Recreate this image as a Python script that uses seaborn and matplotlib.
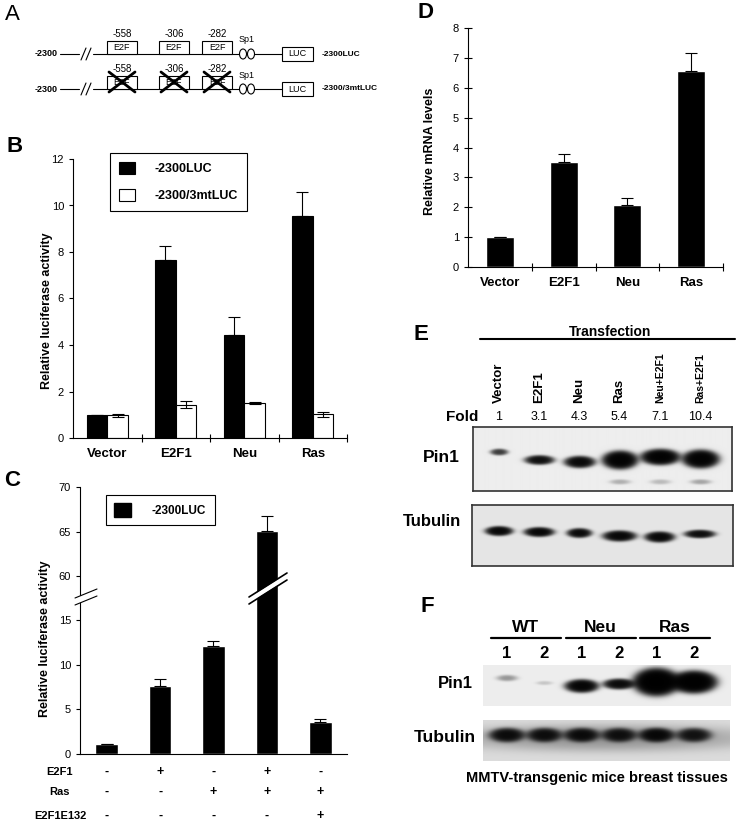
import numpy as np
import pandas as pd
import matplotlib
matplotlib.use("Agg")
import matplotlib.pyplot as plt
import seaborn as sns
from matplotlib.patches import Rectangle, Ellipse, Patch, Polygon
from matplotlib.lines import Line2D
from matplotlib.transforms import blended_transform_factory

W, H = 743, 825

# ---------------- data ----------------
# B: luciferase reporter, wild-type vs E2F-site mutant promoter
b_groups = ["Vector", "E2F1", "Neu", "Ras"]
b_constructs = ["-2300LUC", "-2300/3mtLUC"]
b_wt = [1.0, 7.67, 4.44, 9.53]
b_wt_err = [0.0, 0.57, 0.78, 1.05]
b_mut = [0.98, 1.42, 1.50, 1.02]
b_mut_err = [0.07, 0.15, 0.03, 0.10]

# C: E2F1 / Ras / E2F1E132 combinations
c_conditions = ["c1", "c2", "c3", "c4", "c5"]
c_e2f1 = ["-", "+", "-", "+", "-"]
c_ras = ["-", "-", "+", "+", "+"]
c_e132 = ["-", "-", "-", "-", "+"]
c_values = [1.1, 7.6, 12.1, 65.1, 3.6]
c_err = [0.0, 0.8, 0.5, 1.6, 0.35]

# D: relative mRNA
d_groups = ["Vector", "E2F1", "Neu", "Ras"]
d_values = [1.0, 3.5, 2.08, 6.55]
d_err = [0.0, 0.29, 0.22, 0.62]

# E: transfection western blot
e_lanes = ["Vector", "E2F1", "Neu", "Ras", "Neu+E2F1", "Ras+E2F1"]
e_fold = ["1", "3.1", "4.3", "5.4", "7.1", "10.4"]
e_pin1 = [0.45, 0.9, 1.05, 1.4, 1.4, 1.4]
e_tubulin = [1.1, 1.1, 1.0, 1.1, 1.1, 0.95]

# F: transgenic mice tissues
f_groups = ["WT", "Neu", "Ras"]
f_mice = ["1", "2"]
f_pin1 = [0.15, 0.06, 1.2, 1.0, 1.9, 1.7]
f_tubulin = [0.9, 0.85, 0.9, 0.8, 1.0, 0.75]

# ---------------- setup ----------------
sns.set_style("ticks")
plt.rcParams["font.family"] = ["Liberation Sans", "DejaVu Sans"]
plt.rcParams["axes.edgecolor"] = "black"
plt.rcParams["axes.linewidth"] = 0.8
plt.rcParams["xtick.color"] = "black"
plt.rcParams["ytick.color"] = "black"
plt.rcParams["text.color"] = "black"

fig = plt.figure(figsize=(W / 100, H / 100), dpi=100)
fig.patch.set_facecolor("white")


def px_axes(x0, y0, x1, y1):
    return fig.add_axes([x0 / W, 1 - y1 / H, (x1 - x0) / W, (y1 - y0) / H])


def ftxt(x, y, s, **kw):
    kw.setdefault("ha", "center")
    kw.setdefault("va", "center")
    return fig.text(x / W, 1 - y / H, s, **kw)


def px_line(xs, ys, **kw):
    fig.add_artist(Line2D([x / W for x in xs], [1 - y / H for y in ys],
                          transform=fig.transFigure, **kw))


def px_poly(pts, **kw):
    fig.add_artist(Polygon([(x / W, 1 - y / H) for x, y in pts], closed=True,
                           transform=fig.transFigure, **kw))


def style_bars(ax, ncat, inout=False):
    sns.despine(ax=ax)
    ax.set_xlim(-0.5, ncat - 0.5)
    ax.set_xlabel("")
    ax.set_ylabel("")
    ax.tick_params(axis="x", which="major", length=0, pad=7, labelsize=9.5)
    for lab in ax.get_xticklabels():
        lab.set_fontweight("bold")
    ax.set_xticks(np.arange(0.5, ncat, 1), minor=True)
    ax.tick_params(axis="x", which="minor", direction="inout", length=6, width=0.8)
    ax.tick_params(axis="y", labelsize=8, width=0.8,
                   direction="inout" if inout else "out", length=6 if inout else 3)


# ---------------- A: promoter schematic ----------------
ftxt(12, 15, "A", fontsize=16)
axA = px_axes(0, 0, 370, 100)
axA.set_xlim(0, 370)
axA.set_ylim(100, 0)
axA.axis("off")
site_x = [107, 159, 202]
site_names = ["-558", "-306", "-282"]
for row_y, label, mutant in [(54, "-2300LUC", False), (89, "-2300/3mtLUC", True)]:
    axA.text(46, row_y, "-2300", fontsize=6.5, fontweight="bold", ha="center", va="center")
    axA.plot([60, 79], [row_y, row_y], color="black", lw=0.8)
    axA.plot([93, 282], [row_y, row_y], color="black", lw=0.8)
    for dx in (81, 86):
        axA.plot([dx, dx + 5], [row_y + 6, row_y - 6], color="black", lw=0.8)
    for sx, name in zip(site_x, site_names):
        axA.add_patch(Rectangle((sx, row_y - 13), 30, 13, facecolor="white",
                                edgecolor="black", lw=0.8, zorder=3))
        axA.text(sx + 15, row_y - 6.5, "E2F", fontsize=6.5, ha="center", va="center", zorder=4)
        axA.text(sx + 15, row_y - 20, name, fontsize=7, ha="center", va="center")
        if mutant:
            axA.plot([sx + 2, sx + 28], [row_y - 17, row_y + 3], color="black", lw=2, zorder=5)
            axA.plot([sx + 2, sx + 28], [row_y + 3, row_y - 17], color="black", lw=2, zorder=5)
    for ox in (243, 251):
        axA.add_patch(Ellipse((ox, row_y), 7, 10, facecolor="white", edgecolor="black",
                              lw=0.8, zorder=3))
    axA.text(247, row_y - 14, "Sp1", fontsize=6.5, ha="center", va="center")
    axA.add_patch(Rectangle((282, row_y - 7), 31, 14, facecolor="white",
                            edgecolor="black", lw=0.8, zorder=3))
    axA.text(297.5, row_y, "LUC", fontsize=6.5, ha="center", va="center", zorder=4)
    axA.text(322, row_y, label, fontsize=6, fontweight="bold", ha="left", va="center")

# ---------------- B ----------------
ftxt(15, 147, "B", fontsize=16, fontweight="bold")
axB = px_axes(73, 159, 347, 438)
dfB = pd.DataFrame({"group": b_groups * 2,
                    "construct": [b_constructs[0]] * 4 + [b_constructs[1]] * 4,
                    "value": b_wt + b_mut})
sns.barplot(data=dfB, x="group", y="value", hue="construct", palette=["black", "white"],
            edgecolor="black", linewidth=0.8, width=0.6, saturation=1,
            errorbar=None, legend=False, ax=axB)
for bars, vals, errs, both in [(axB.patches[:4], b_wt, b_wt_err, False),
                               (axB.patches[4:8], b_mut, b_mut_err, True)]:
    xs = [p.get_x() + p.get_width() / 2 for p in bars]
    low = errs if both else [0] * len(errs)
    axB.errorbar(xs, vals, yerr=[low, errs], fmt="none", ecolor="black",
                 elinewidth=0.8, capsize=4, capthick=0.8, zorder=5)
axB.set_ylim(0, 12)
axB.set_yticks(range(0, 13, 2))
style_bars(axB, 4)
axB.legend(handles=[Patch(facecolor="black", edgecolor="black", lw=0.8),
                    Patch(facecolor="white", edgecolor="black", lw=0.8)],
           labels=b_constructs, loc="upper left", bbox_to_anchor=(0.135, 1.022),
           borderaxespad=0, fancybox=False, framealpha=1, edgecolor="black",
           prop={"weight": "bold", "size": 9}, handlelength=1.3, handleheight=1.1,
           handletextpad=1.6, labelspacing=1.1, borderpad=0.7)
axB.get_legend().get_frame().set_linewidth(0.8)
ftxt(47, 311, "Relative luciferase activity", rotation=90, fontsize=9, fontweight="bold")

# ---------------- C (broken axis) ----------------
ftxt(12, 480, "C", fontsize=16, fontweight="bold")
axCt = px_axes(80, 487, 347, 601)
axCb = px_axes(80, 601, 347, 754)
dfC = pd.DataFrame({"cond": c_conditions, "value": c_values})
for ax in (axCt, axCb):
    sns.barplot(data=dfC, x="cond", y="value", color="black", width=0.42,
                saturation=1, errorbar=None, ax=ax)
    xs = [p.get_x() + p.get_width() / 2 for p in ax.patches]
    ax.errorbar(xs, c_values, yerr=[[0] * 5, c_err], fmt="none", ecolor="black",
                elinewidth=0.8, capsize=4, capthick=0.8, zorder=5)
    ax.set_xlim(-0.5, 4.5)
    ax.set_xlabel("")
    ax.set_ylabel("")
    ax.tick_params(axis="x", length=0, labelbottom=False)
    ax.tick_params(axis="y", labelsize=8, length=3, width=0.8)
axCt.set_ylim(57.2, 70)
axCt.set_yticks([60, 65, 70])
axCb.set_ylim(0, 17.1)
axCb.set_yticks([0, 5, 10, 15])
sns.despine(ax=axCt, bottom=True)
sns.despine(ax=axCb)
axCt.legend(handles=[Patch(facecolor="black", edgecolor="black")], labels=[b_constructs[0]],
            loc="upper left", bbox_to_anchor=(0.097, 0.93), borderaxespad=0,
            fancybox=False, framealpha=1, edgecolor="black",
            prop={"weight": "bold", "size": 8.5}, handlelength=1.4, handleheight=1.4,
            handletextpad=1.8, borderpad=0.7)
axCt.get_legend().get_frame().set_linewidth(0.8)
# break marks on the axis and on the tall bar
px_poly([(75, 605), (97, 596), (97, 589), (75, 598)], facecolor="white", edgecolor="none")
px_line([75, 97], [605, 596], color="black", lw=0.8)
px_line([75, 97], [598, 589], color="black", lw=0.8)
px_poly([(250, 603), (286, 580), (286, 574), (250, 597)], facecolor="white", edgecolor="none")
px_line([249, 287], [604, 580], color="black", lw=1.2)
px_line([249, 287], [597, 573], color="black", lw=1.2)
ftxt(45, 639, "Relative luciferase activity", rotation=90, fontsize=9, fontweight="bold")
trC = blended_transform_factory(axCb.transData, fig.transFigure)
for row_y, name, signs in [(772, "E2F1", c_e2f1), (792, "Ras", c_ras), (816, "E2F1E132", c_e132)]:
    ftxt(60, row_y, name, fontsize=8, fontweight="bold")
    for i, s in enumerate(signs):
        axCb.text(i, 1 - row_y / H, s, transform=trC, ha="center", va="center",
                  fontsize=9, fontweight="bold", clip_on=False)

# ---------------- D ----------------
ftxt(425, 13, "D", fontsize=16, fontweight="bold")
axD = px_axes(468, 28, 723, 267)
sns.barplot(x=d_groups, y=d_values, color="black", width=0.44, saturation=1,
            errorbar=None, ax=axD)
xs = [p.get_x() + p.get_width() / 2 for p in axD.patches]
axD.errorbar(xs, d_values, yerr=[[0] * 4, d_err], fmt="none", ecolor="black",
             elinewidth=0.8, capsize=4, capthick=0.8, zorder=5)
axD.set_ylim(0, 8)
axD.set_yticks(range(0, 9))
style_bars(axD, 4, inout=True)
ftxt(430, 151, "Relative mRNA levels", rotation=90, fontsize=9, fontweight="bold")


# ---------------- blots ----------------
def draw_blot(ax, box, centers, ys, widths, heights, signal, bg, border=True):
    x0, y0, x1, y1 = box
    gx = np.linspace(x0, x1, int((x1 - x0) * 3))
    gy = np.linspace(y0, y1, int((y1 - y0) * 3))
    X, Y = np.meshgrid(gx, gy)
    dens = np.zeros_like(X)
    for cx, cy, w, h, s in zip(centers, ys, widths, heights, signal):
        r2 = ((X - cx) / (w / 2)) ** 2 + ((Y - cy) / (h / 2)) ** 2
        dens += s * np.exp(-r2 ** 1.5)
    img = bg * np.exp(-3.0 * dens)
    ax.imshow(img, cmap="gray", vmin=0, vmax=1, extent=(x0, x1, y1, y0),
              aspect="auto", interpolation="bilinear")
    ax.set_xlim(x0, x1)
    ax.set_ylim(y1, y0)
    ax.set_xticks([])
    ax.set_yticks([])
    for sp in ax.spines.values():
        sp.set_visible(border)
        sp.set_color("#333333")
        sp.set_linewidth(1.2)


# E
ftxt(421, 335, "E", fontsize=16, fontweight="bold")
ftxt(610, 332, "Transfection", fontsize=10, fontweight="bold")
px_line([480, 735], [339, 339], color="black", lw=1.5)
e_x = np.linspace(499, 700, len(e_lanes))
for cx, lane, fold in zip(e_x, e_lanes, e_fold):
    ftxt(cx, 403, lane, rotation=90, va="bottom", fontweight="bold",
         fontsize=7.5 if "+" in lane else 9.5)
    ftxt(cx, 417, fold, fontsize=9)
ftxt(478, 417, "Fold", ha="right", fontsize=11, fontweight="bold")

axEp = px_axes(473, 427, 732, 491)
ep_y = [452, 460, 462, 460, 457, 459]
ep_w = [16, 25, 26, 29, 32, 30]
ep_h = [6, 8, 10, 15, 13, 15]
sec = [0, 0, 0, 0.1, 0.08, 0.12]
draw_blot(axEp, (473, 427, 732, 491),
          list(e_x) + list(e_x), ep_y + [482] * 6, ep_w + [20] * 6, ep_h + [5] * 6,
          e_pin1 + sec, bg=0.93)
ftxt(441, 457, "Pin1", fontsize=12.5, fontweight="bold")

axEt = px_axes(472, 505, 733, 566)
draw_blot(axEt, (472, 505, 733, 566), e_x, [531, 532, 533, 536, 537, 534],
          [23, 25, 21, 28, 25, 26], [8, 8, 8, 9, 9, 7], e_tubulin, bg=0.9)
ftxt(432, 522, "Tubulin", fontsize=12, fontweight="bold")

# F
ftxt(427, 607, "F", fontsize=16, fontweight="bold")
f_x = np.linspace(507, 694, len(f_groups) * len(f_mice))
for g, name in enumerate(f_groups):
    mid = (f_x[2 * g] + f_x[2 * g + 1]) / 2
    ftxt(mid, 627, name, fontsize=12.5, fontweight="bold")
    px_line([mid - 35, mid + 35], [638, 638], color="black", lw=1.6)
for i, cx in enumerate(f_x):
    ftxt(cx, 653, f_mice[i % 2], fontsize=12, fontweight="bold")

axFp = px_axes(483, 665, 731, 706)
draw_blot(axFp, (483, 665, 731, 706), f_x, [678, 683, 686, 684, 682, 682],
          [20, 16, 28, 27, 37, 37], [6, 4, 11, 9, 22, 18], f_pin1, bg=0.93, border=False)
ftxt(455, 683, "Pin1", fontsize=12, fontweight="bold")

axFt = px_axes(483, 720, 730, 761)
draw_blot(axFt, (483, 720, 730, 761), list(f_x) + [606], [735] * 6 + [738],
          [30] * 6 + [300], [12] * 6 + [26], f_tubulin + [0.12], bg=0.86, border=False)
ftxt(445, 737, "Tubulin", fontsize=12.5, fontweight="bold")
ftxt(597, 778, "MMTV-transgenic mice breast tissues", fontsize=10.5, fontweight="bold")

fig.savefig("out.png", dpi=100, facecolor="white")
